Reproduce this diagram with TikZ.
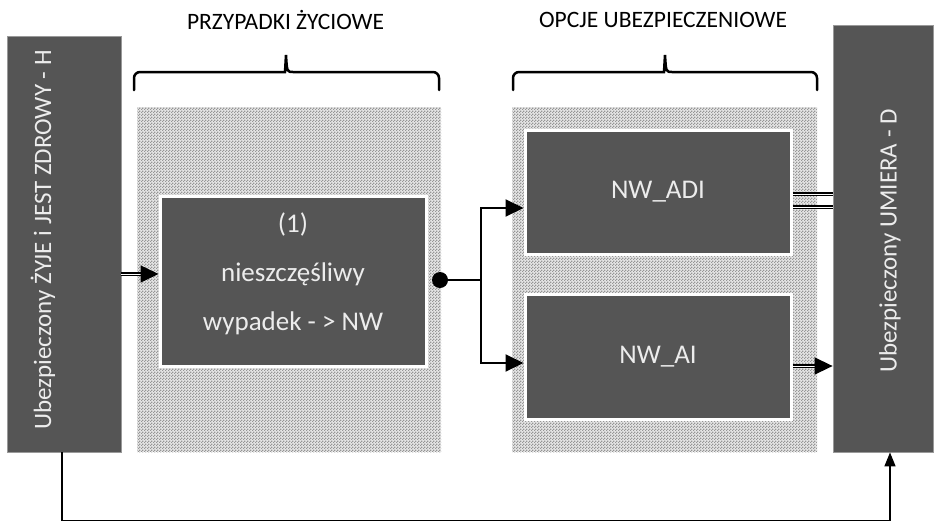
\documentclass[tikz,border=0pt]{standalone}
\usepackage{fontspec}
\setmainfont{Carlito}
\usetikzlibrary{arrows.meta,patterns}
\definecolor{ciemny}{RGB}{85,85,85}
\definecolor{jasny}{RGB}{236,236,236}
\definecolor{tlo}{RGB}{230,230,230}
\definecolor{kratka}{RGB}{150,150,150}
\pgfdeclarepatternformonly{szachownica}{\pgfpointorigin}{\pgfqpoint{3pt}{3pt}}{\pgfqpoint{3pt}{3pt}}{%
  \pgfpathrectangle{\pgfpointorigin}{\pgfqpoint{1.5pt}{1.5pt}}%
  \pgfpathrectangle{\pgfqpoint{1.5pt}{1.5pt}}{\pgfqpoint{1.5pt}{1.5pt}}%
  \pgfusepath{fill}}
\begin{document}
\begin{tikzpicture}[x=1pt,y=-1pt,
    boczny/.style={draw=black!40,line width=0.8pt,fill=ciemny,inner sep=0pt},
    napis/.style={text=jasny,font=\fontsize{25}{30}\selectfont,inner sep=0pt,rotate=90},
    strefa/.style={preaction={fill=tlo},pattern=szachownica,pattern color=kratka,inner sep=0pt},
    opcja/.style={draw=white,line width=3pt,fill=ciemny,text=jasny,inner sep=0pt,
        font=\fontsize{27}{49}\selectfont,align=center},
    opis/.style={text=jasny,inner sep=0pt,font=\fontsize{27}{49}\selectfont,align=center},
    tytul/.style={font=\fontsize{23.5}{28}\selectfont,inner sep=0pt},
    klamra/.style={line width=2.5pt,line cap=round},
    lacznik/.style={line width=2pt},
    podwojna/.style={double,double distance=1pt,line width=1.5pt},
    grot/.style={-{Triangle[length=18pt,width=17pt]}}]
  \useasboundingbox (0,0) rectangle (934,523);
  % tytuly i klamry
  \node[tytul] (tytulZdarzenia) at (285.5,20) {PRZYPADKI ŻYCIOWE};
  \node[tytul] (tytulOpcje) at (663,20) {OPCJE UBEZPIECZENIOWE};
  \draw[klamra] (134,90) [rounded corners=6pt] |- (279,72) [sharp corners]
    .. controls (285,72) .. (286,55) .. controls (287,72) .. (293,72)
    [rounded corners=6pt] -| (439,90);
  \draw[klamra] (513,90) [rounded corners=6pt] |- (658,72) [sharp corners]
    .. controls (664,72) .. (665,55) .. controls (666,72) .. (672,72)
    [rounded corners=6pt] -| (817,90);
  % stany
  \node[boczny,minimum width=114,minimum height=416] (zdrowy) at (64,244) {};
  \node[napis] (zdrowyNapis) at (43,240) {Ubezpieczony ŻYJE i JEST ZDROWY - H};
  \node[boczny,minimum width=100,minimum height=427] (umiera) at (883,238.5) {};
  \node[napis] (umieraNapis) at (890,241) {Ubezpieczony UMIERA - D};
  % strefy
  \node[strefa,minimum width=304,minimum height=345] (zdarzenia) at (289,279.5) {};
  \node[strefa,minimum width=305,minimum height=345] (opcje) at (664.5,279.5) {};
  \node[opcja,minimum width=266,minimum height=170] (wypadek) at (293,281) {};
  \node[opis] (wypadekOpis) at (293,274) {(1)\\nieszczęśliwy\\wypadek - > NW};
  \node[opcja,minimum width=266,minimum height=124] (adi) at (658,192) {NW\_ADI};
  \node[opcja,minimum width=266,minimum height=125] (ai) at (658,356.5) {NW\_AI};
  % polaczenia
  \node[circle,fill=black,inner sep=0pt,minimum size=16] (kropka) at (440,280) {};
  \coordinate (rozgalezienie) at (481,280);
  \coordinate (wejscie) at ([yshift=7pt]wypadek.west);
  \coordinate (wyjscieAi) at ([yshift=-9.5pt]ai.east);
  \draw[podwojna,grot] (zdrowy.east |- wejscie) -- (wejscie);
  \draw[lacznik] (kropka.center) -- (rozgalezienie);
  \draw[lacznik,grot] (rozgalezienie) |- ([yshift=-16pt]adi.west);
  \draw[lacznik,grot] (rozgalezienie) |- ([yshift=-6.5pt]ai.west);
  \draw[podwojna] ([yshift=-2pt]adi.east) -- ([yshift=-2pt]adi.east -| umiera.west);
  \draw[podwojna] ([yshift=-15pt]adi.east) -- ([yshift=-15pt]adi.east -| umiera.west);
  \draw[podwojna,grot] (wyjscieAi) -- (wyjscieAi -| umiera.west);
  \draw[line width=1.5pt,-{Triangle[length=14pt,width=11pt]}] ([xshift=-2pt]zdrowy.south)
    -- ++(0,68) -| ([xshift=7pt]umiera.south);
\end{tikzpicture}
\end{document}
